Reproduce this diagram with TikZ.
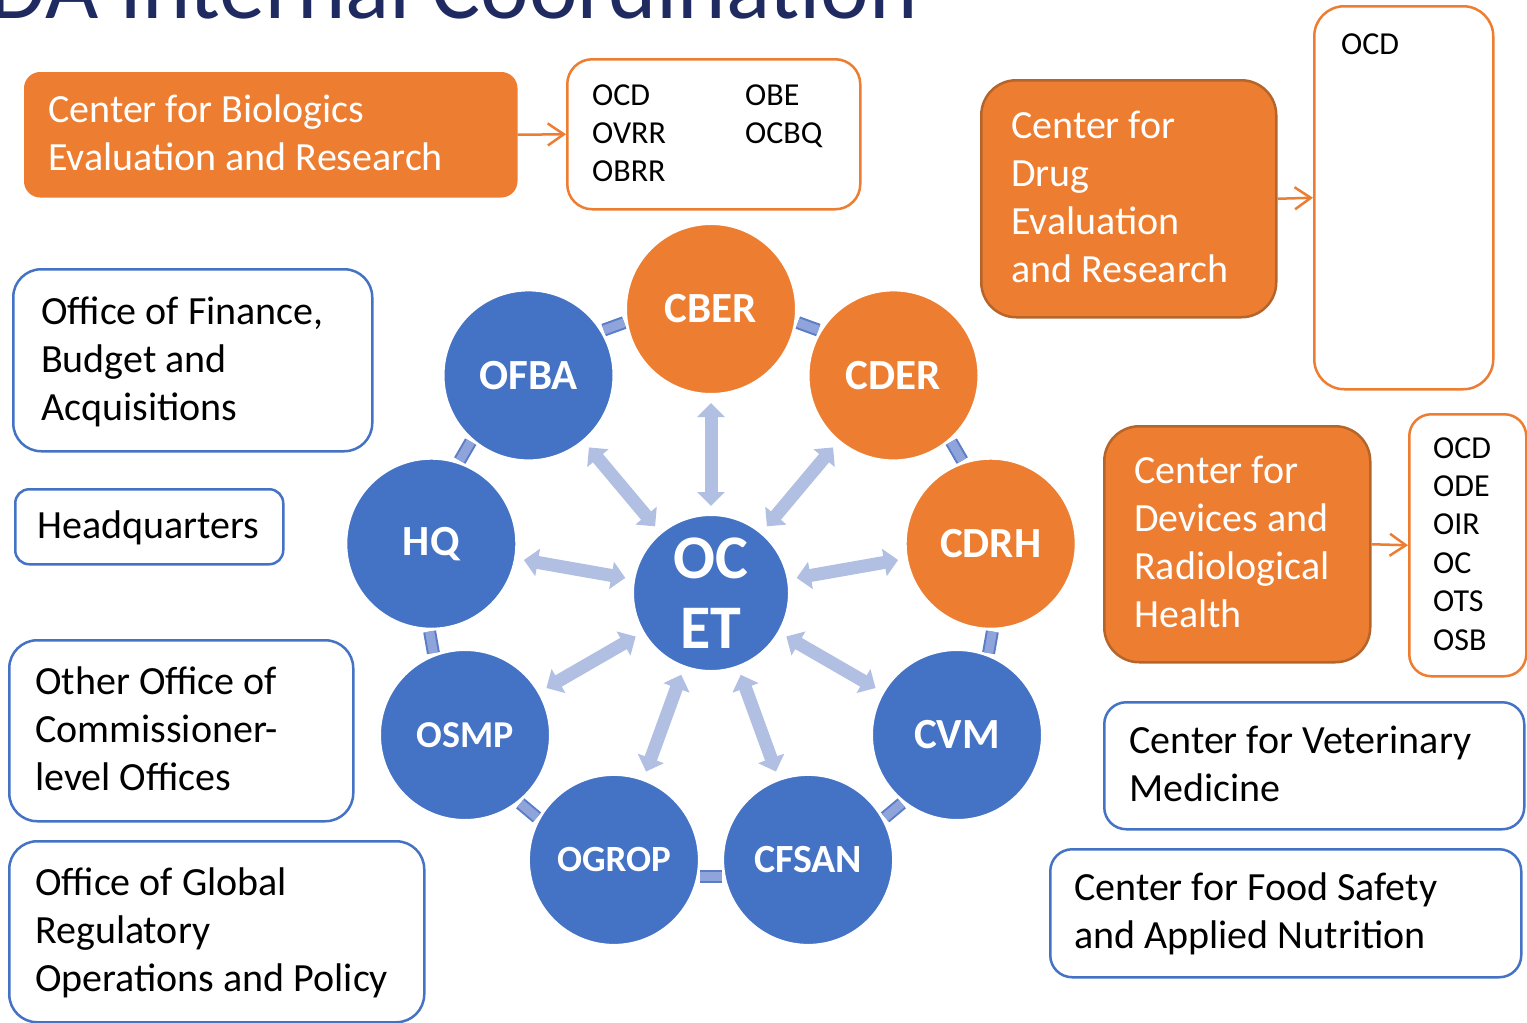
\documentclass[tikz,border=0pt]{standalone}
\usepackage{fontspec}
\setmainfont{Carlito}
\usetikzlibrary{arrows.meta}
\definecolor{orng}{HTML}{ED7D31}
\definecolor{orngdk}{HTML}{B5652A}
\definecolor{blu}{HTML}{4472C4}
\definecolor{arrlt}{HTML}{B0BFE2}
\definecolor{ringlt}{HTML}{8FA4DA}
\definecolor{ringdk}{HTML}{5B7CC6}
\definecolor{ttl}{HTML}{1F2A60}
\newcommand\mlines[1]{\begin{tabular}[t]{@{}l@{}}#1\end{tabular}}
\begin{document}
\begin{tikzpicture}[x=1pt,y=-1pt,
  ctrbox/.style={fill=orng, draw=orngdk, line width=2.5pt, anchor=north west, inner sep=0pt},
  offbox/.style={draw=orng, fill=white, line width=2.5pt, anchor=north west, inner sep=0pt},
  bluebox/.style={draw=blu, fill=white, line width=2.5pt, anchor=north west, inner sep=0pt},
  lbl/.style={anchor=base west, inner sep=0pt, font=\fontsize{40}{48}\selectfont},
  wlbl/.style={lbl, text=white},
  slbl/.style={anchor=base west, inner sep=0pt, font=\fontsize{32}{38.4}\selectfont},
  hub/.style={circle, inner sep=0pt, minimum size=170pt, draw=white, line width=2pt, text=white, font=\bfseries\fontsize{43}{48}\selectfont},
  biarrow/.style={draw=arrlt, line width=13pt, {Triangle[width=27pt,length=14pt]}-{Triangle[width=27pt,length=14pt]}, shorten <=8pt, shorten >=8pt},
  link/.style={draw=orng, line width=2.5pt, -{Straight Barb[length=16pt,width=22pt]}}
]
\useasboundingbox (0,0) rectangle (1527,1023);

% title (cut off by the top edge)
\node[anchor=base east, inner sep=0pt, text=ttl, font=\fontsize{92}{100}\selectfont] (title) at (918,18) {FDA Internal Coordination};

% short ring segments between neighbouring circles
\coordinate (ctr) at (711,593);
\foreach \m in {110,70,30,-10,-50,-90,-130,-170,150}{
  \coordinate (ra) at ({711+284*cos(\m-2.2)},{593-284*sin(\m-2.2)});
  \coordinate (rb) at ({711+284*cos(\m+2.2)},{593-284*sin(\m+2.2)});
  \draw[ringdk, line width=13pt] (ra) -- (rb);
  \draw[ringlt, line width=9pt] (ra) -- (rb);
}

% circles
\node[hub, fill=orng] (cber)  at (711,309)   {CBER};
\node[hub, fill=orng] (cder)  at (893.5,375.4) {CDER};
\node[hub, fill=orng] (cdrh)  at (990.7,543.7) {CDRH};
\node[hub, fill=blu]  (cvm)   at (957,735)   {CVM};
\node[hub, fill=blu, font=\bfseries\fontsize{40}{48}\selectfont]  (cfsan) at (808.1,859.9) {CFSAN};
\node[hub, fill=blu, font=\bfseries\fontsize{37}{48}\selectfont]  (ogrop) at (613.9,859.9) {OGROP};
\node[hub, fill=blu, font=\bfseries\fontsize{38}{48}\selectfont]  (osmp)  at (465,735)   {OSMP};
\node[hub, fill=blu]  (hq)    at (431.3,543.7) {HQ};
\node[hub, fill=blu]  (ofba)  at (528.5,375.4) {OFBA};
\node[hub, fill=blu, minimum size=156pt, align=center, font=\bfseries\fontsize{62}{70}\selectfont] (oc) at (711,593) {OC\\ET};

% spokes
\foreach \t in {cber,cder,cdrh,cvm,cfsan,ogrop,osmp,hq,ofba}
  \draw[biarrow] (oc) -- (\t);

% CBER boxes
\node[ctrbox, draw=orng, rounded corners=15pt, minimum width=491pt, minimum height=123pt] (cberbox) at (24,72) {};
\node[wlbl] (cbertxt) at (48,122) {\mlines{Center for Biologics\\Evaluation and Research}};
\node[offbox, rounded corners=25pt, minimum width=293pt, minimum height=150pt] (cberoff) at (566,58) {};
\node[slbl] (cberoffa) at (592,105) {\mlines{OCD\\OVRR\\OBRR}};
\node[slbl] (cberoffb) at (745,105) {\mlines{OBE\\OCBQ}};
\draw[link] (cberbox.east) -- (cberoff.west);

% CDER boxes
\node[ctrbox, rounded corners=35pt, minimum width=295pt, minimum height=237pt] (cderbox) at (980,79) {};
\node[wlbl] (cdertxt) at (1011,138) {\mlines{Center for\\Drug\\Evaluation\\and Research}};
\node[offbox, rounded corners=30pt, minimum width=179pt, minimum height=383pt] (cderoff) at (1313,5) {};
\node[slbl] (cderoffa) at (1341,54) {OCD};
\draw[link] (cderbox.east) -- (cderoff.west);

% CDRH boxes
\node[ctrbox, rounded corners=35pt, minimum width=266pt, minimum height=236pt] (cdrhbox) at (1103,425) {};
\node[wlbl] (cdrhtxt) at (1134,483) {\mlines{Center for\\Devices and\\Radiological\\Health}};
\node[offbox, rounded corners=22pt, minimum width=117pt, minimum height=262pt] (cdrhoff) at (1408,413) {};
\node[slbl] (cdrhoffa) at (1433,458) {\mlines{OCD\\ODE\\OIR\\OC\\OTS\\OSB}};
\draw[link] (cdrhbox.east) -- (cdrhoff.west);

% blue-bordered boxes, left
\node[bluebox, rounded corners=28pt, minimum width=359pt, minimum height=182pt] (ofbabox) at (12,268) {};
\node[lbl] (ofbatxt) at (41,324) {\mlines{Office of Finance,\\Budget and\\Acquisitions}};
\node[bluebox, rounded corners=14pt, minimum width=268pt, minimum height=75pt] (hqbox) at (14,488) {};
\node[lbl] (hqtxt) at (37,538) {Headquarters};
\node[bluebox, rounded corners=28pt, minimum width=344pt, minimum height=181pt] (osmpbox) at (8,639) {};
\node[lbl] (osmptxt) at (35,694) {\mlines{Other Office of\\Commissioner-\\level Offices}};
\node[bluebox, rounded corners=28pt, minimum width=415pt, minimum height=181pt] (ogropbox) at (8,840) {};
\node[lbl] (ogroptxt) at (35,895) {\mlines{Office of Global\\Regulatory\\Operations and Policy}};

% blue-bordered boxes, right
\node[bluebox, rounded corners=22pt, minimum width=420pt, minimum height=127pt] (cvmbox) at (1103,701) {};
\node[lbl] (cvmtxt) at (1129,753) {\mlines{Center for Veterinary\\Medicine}};
\node[bluebox, rounded corners=22pt, minimum width=471pt, minimum height=128pt] (cfsanbox) at (1049,848) {};
\node[lbl] (cfsantxt) at (1074,900) {\mlines{Center for Food Safety\\and Applied Nutrition}};
\end{tikzpicture}
\end{document}
